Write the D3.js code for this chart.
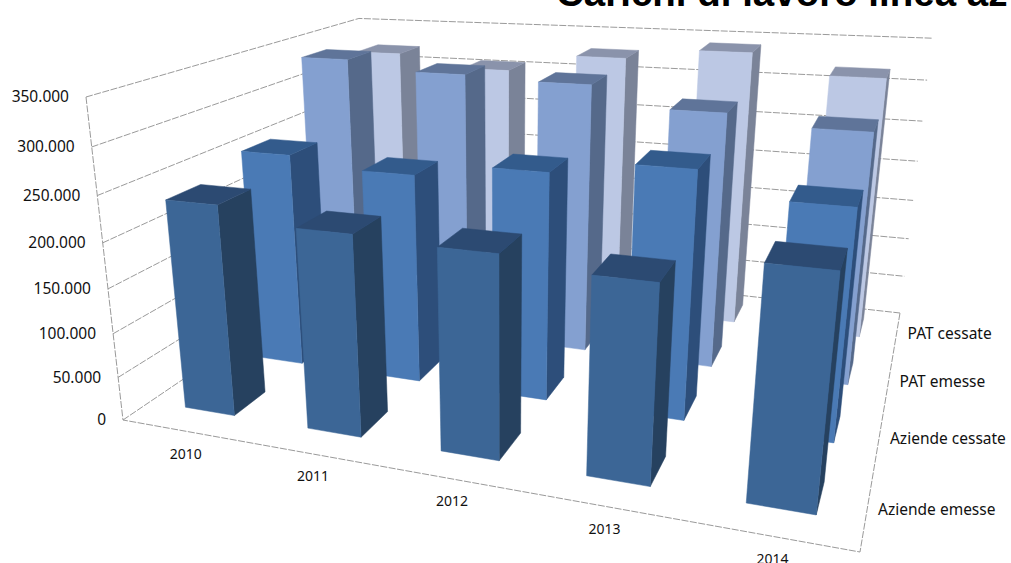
<!DOCTYPE html>
<html><head><meta charset="utf-8"><style>html,body{margin:0;background:#fff;overflow:hidden}svg{display:block}</style>
<script src="https://cdn.jsdelivr.net/npm/d3@7"></script></head><body><svg id="c" width="1011" height="563"></svg>
<script>
const years=["2010","2011","2012","2013","2014"];
const series=["Aziende emesse","Aziende cessate","PAT emesse","PAT cessate"];
const aziendeEmesse=[236000,220000,216000,205000,233000];
const aziendeCessate=[253000,242000,257000,272000,247000];
const patEmesse=[336000,325000,321000,298000,287000];
const patCessate=[320000,305000,327000,340000,317000];
const valueTicks=[0,50000,100000,150000,200000,250000,300000,350000];
const faceColors=["#3c6696","#4a7ab5","#84a0d0","#bcc8e4"];
const sideColors=["#26415f","#2d4e7a","#55698a","#7a8398"];
const topColors=["#2c4a72","#335b8c","#5f7499","#8a93ab"];
const title="Carichi di lavoro linea az";

const O=[123,420],B=[860,552],D=[368,254],C=[900,313],E=[86,97],G=[932,45];
const det=(a,b,c,d)=>a*d-b*c;
const bc=[B[0]-C[0],B[1]-C[1]],dc=[D[0]-C[0],D[1]-C[1]],oc=[O[0]-C[0],O[1]-C[1]];
const dd=det(bc[0],dc[0],bc[1],dc[1]);
const k1=det(oc[0],dc[0],oc[1],dc[1])/dd,k2=det(bc[0],oc[0],bc[1],oc[1])/dd;
const k3=(2*(O[0]-G[0])-k1*(B[0]-G[0])-k2*(D[0]-G[0]))/(E[0]-G[0]);
function project(u,v,w){
  const den=1+u*(k1-1)+v*(k2-1)+w*(k3-1);
  const f=i=>(O[i]+u*(k1*B[i]-O[i])+v*(k2*D[i]-O[i])+w*(k3*E[i]-O[i]))/den;
  return [f(0),f(1)];
}
const xS=d3.scaleBand().domain(years).range([.001,1.004]).paddingInner(.59).paddingOuter(.295);
const zS=d3.scaleBand().domain(series).range([.012,1.012]).paddingInner(.57).paddingOuter(.285);
const labelX=d3.scaleBand().domain(years).range([0,1]);
const labelZ=d3.scaleBand().domain(series).range([0,1]);
const yS=d3.scaleLinear().domain([0,350000]).range([0,1]);
const svg=d3.select("#c");
const line=d3.line();
const fmt=d3.formatLocale({decimal:",",thousands:".",grouping:[3],currency:["",""]}).format(",d");
const grid=svg.append("g").attr("fill","none").attr("stroke","#9a9a9a").attr("stroke-width",1).attr("stroke-dasharray","7 1.5");
valueTicks.forEach(t=>{const w=yS(t);
  grid.append("path").attr("d",line([project(0,0,w),project(0,1,w),project(1,1,w)]));});
grid.append("path").attr("d",line([project(0,0,1),project(0,0,0),project(1,0,0),project(1,1,0)]));

const all=[aziendeEmesse,aziendeCessate,patEmesse,patCessate];
const bars=svg.append("g");
for(let s=3;s>=0;s--){years.forEach((yr,i)=>{
  const u0=xS(yr),u1=u0+xS.bandwidth(),v0=zS(series[s]),v1=v0+zS.bandwidth(),h=yS(all[s][i]);
  const quad=(pts,c)=>bars.append("path").attr("d",line(pts)+"Z").attr("fill",c).attr("stroke",c).attr("stroke-width",.5);
  quad([project(u1,v0,0),project(u1,v1,0),project(u1,v1,h),project(u1,v0,h)],sideColors[s]);
  quad([project(u0,v0,h),project(u1,v0,h),project(u1,v1,h),project(u0,v1,h)],topColors[s]);
  quad([project(u0,v0,0),project(u1,v0,0),project(u1,v0,h),project(u0,v0,h)],faceColors[s]);
});}
const font="'Noto Sans',sans-serif";
const t=svg.append("g").attr("font-family",font).attr("fill","#111");
valueTicks.forEach(v=>{const p=project(0,0,yS(v));
  t.append("text").attr("x",p[0]-17).attr("y",p[1]).attr("dy",".35em").attr("text-anchor","end").attr("font-size",15.5).text(fmt(v));});
years.forEach(y=>{const p=project(labelX(y)+labelX.bandwidth()/2,0,0);
  t.append("text").attr("x",p[0]+3).attr("y",p[1]+23).attr("dy",".35em").attr("text-anchor","middle").attr("font-size",14).text(y);});
series.forEach(s=>{const p=project(1,labelZ(s)+labelZ.bandwidth()/2,0);
  t.append("text").attr("x",p[0]+11).attr("y",p[1]).attr("dy",".35em").attr("font-size",15.5).text(s);});
svg.append("text").attr("x",556).attr("y",6).attr("font-family","'Liberation Sans',sans-serif").attr("font-weight","bold").attr("font-size",38.5).attr("fill","#000").text(title);
</script></body></html>
